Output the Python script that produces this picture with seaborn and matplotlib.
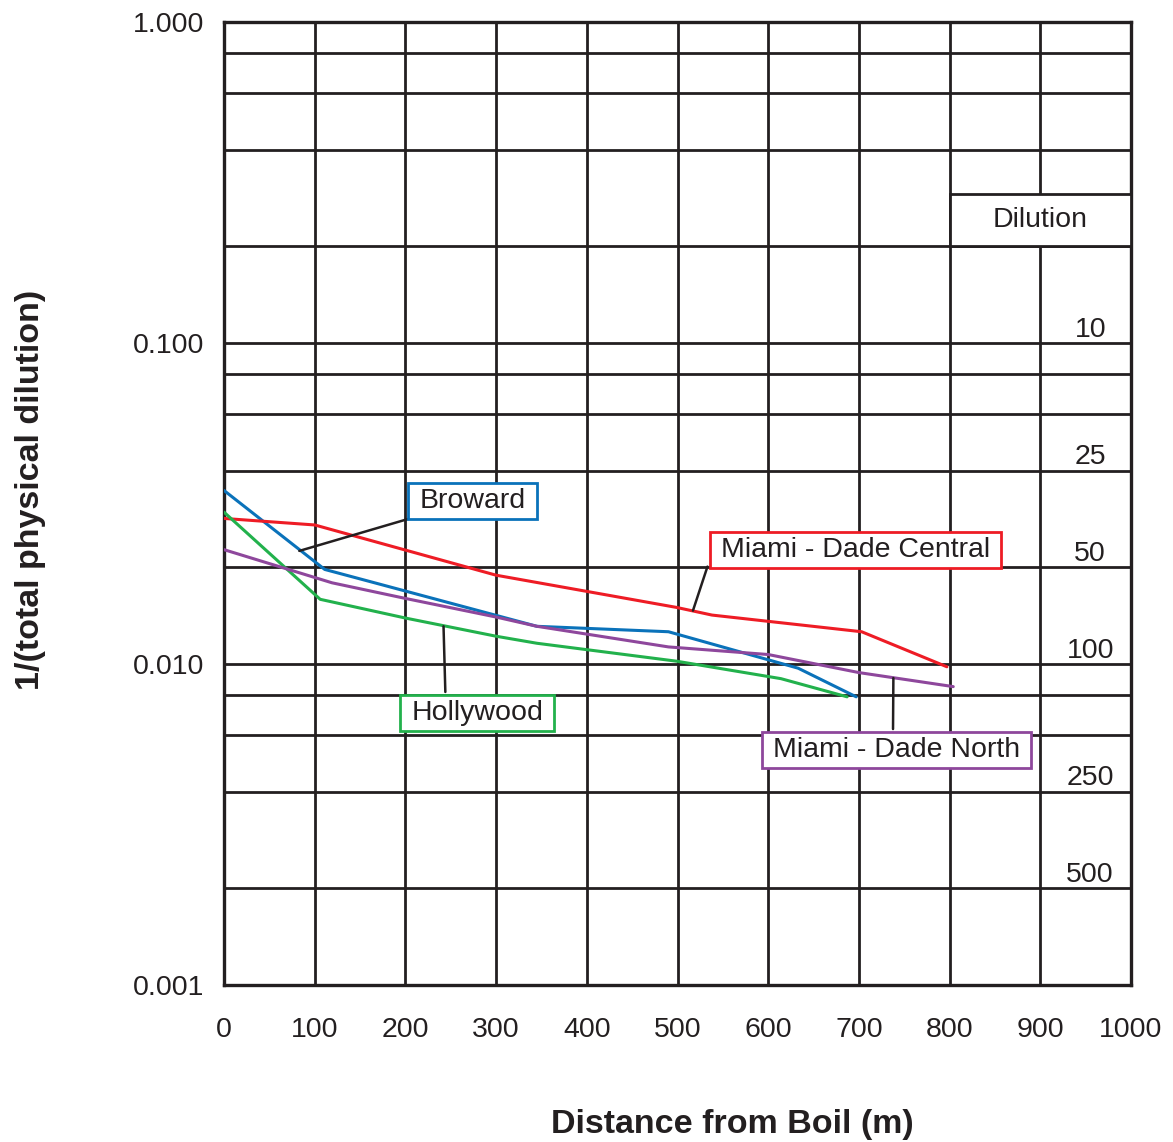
import numpy as np
import pandas as pd
import matplotlib
matplotlib.use("Agg")
import matplotlib.pyplot as plt
from matplotlib.patches import Rectangle
import seaborn as sns

# ---------------- data ----------------
broward_x = [0, 111, 345, 490, 633, 697]
broward_y = [0.0347, 0.0197, 0.0131, 0.0126, 0.0097, 0.0079]

central_x = [0, 100, 300, 499, 538, 703, 797]
central_y = [0.0284, 0.0271, 0.0189, 0.0150, 0.0142, 0.0126, 0.0098]

hollywood_x = [0, 106, 200, 300, 345, 499, 614, 687]
hollywood_y = [0.0297, 0.0159, 0.0139, 0.0122, 0.0116, 0.0102, 0.0090, 0.0079]

north_x = [0, 119, 200, 300, 345, 490, 600, 700, 804]
north_y = [0.0227, 0.0179, 0.0160, 0.0140, 0.0131, 0.0113, 0.0107, 0.0094, 0.0085]

series_names = ["Broward", "Miami - Dade Central", "Hollywood", "Miami - Dade North"]
series_colors = ["#0a72ba", "#ee1c25", "#22b14c", "#8e479c"]

y_tick_values = [0.001, 0.01, 0.1, 1.0]
y_tick_labels = ["0.001", "0.010", "0.100", "1.000"]
x_tick_values = [0, 100, 200, 300, 400, 500, 600, 700, 800, 900, 1000]

dilution_values = [0.1, 0.04, 0.02, 0.01, 0.004, 0.002]
dilution_labels = ["10", "25", "50", "100", "250", "500"]

# label positions (x, y) and leader lines ((x0, y0), (x1, y1))
label_pos = [(274, 0.0322), (696, 0.0227), (279, 0.00705), (741, 0.00540)]
leader_lines = [((205, 0.0284), (83, 0.0225)),
                ((533, 0.0201), (517, 0.01466)),
                ((242, 0.0131), (244, 0.00818)),
                ((738, 0.00904), (737.6, 0.00627))]

frames = []
for name, xs, ys in zip(series_names,
                        [broward_x, central_x, hollywood_x, north_x],
                        [broward_y, central_y, hollywood_y, north_y]):
    frames.append(pd.DataFrame({"distance": xs, "value": ys, "series": name,
                                "order": range(len(xs))}))
df = pd.concat(frames, ignore_index=True)

# ---------------- style ----------------
sns.set_theme(style="white")
plt.rcParams["font.family"] = ["Liberation Sans", "DejaVu Sans"]
ink = "#231f20"
fs = 20.5

fig = plt.figure(figsize=(11.73, 11.42), dpi=100)
ax = fig.add_axes([0.191, 0.1375, 0.7732, 0.8433])

sns.lineplot(data=df, x="distance", y="value", hue="series", units="series",
             estimator=None, sort=False, palette=dict(zip(series_names, series_colors)),
             linewidth=2.2, legend=False, ax=ax, zorder=4)

ax.set_yscale("log")
ax.set_xlim(0, 1000)
ax.set_ylim(0.001, 1.0)

ax.set_yticks(y_tick_values)
ax.set_yticklabels(y_tick_labels)
minor = [m * d for d in [0.001, 0.01, 0.1] for m in [2, 4, 6, 8]]
ax.set_yticks(minor, minor=True)
ax.yaxis.set_minor_formatter(matplotlib.ticker.NullFormatter())
ax.set_xticks(x_tick_values)
ax.set_xticklabels([str(v) for v in x_tick_values])

ax.tick_params(axis="both", which="both", length=0, labelsize=fs, colors=ink)
ax.tick_params(axis="y", pad=14)
ax.tick_params(axis="x", pad=23)

ax.grid(True, which="both", axis="y", color=ink, linewidth=2.0)
ax.grid(True, which="major", axis="x", color=ink, linewidth=2.0)
ax.set_axisbelow(True)
for sp in ax.spines.values():
    sp.set_color(ink)
    sp.set_linewidth(2.4)
    sp.set_visible(True)

ax.set_xlabel("Distance from Boil (m)", fontsize=24.5, fontweight="bold",
              color=ink, va="center", ha="center")
ax.xaxis.set_label_coords(0.560, -0.1445)
ax.set_ylabel("1/(total physical dilution)", fontsize=24.5, fontweight="bold",
              color=ink, va="center", ha="center")
ax.yaxis.set_label_coords(-0.213, 0.514)

# Dilution header box
ax.add_patch(Rectangle((800, 0.2), 200, 0.291 - 0.2, facecolor="white",
                       edgecolor=ink, linewidth=2.0, zorder=3))
ax.text(900, 10 ** ((np.log10(0.2) + np.log10(0.291)) / 2), "Dilution",
        ha="center", va="center", fontsize=fs, color=ink, zorder=5)

for v, lab in zip(dilution_values, dilution_labels):
    ax.annotate(lab, (955, v), xytext=(0, 4.5), textcoords="offset points",
                ha="center", va="baseline", fontsize=fs, color=ink, zorder=5)

# leader lines
for (p0, p1) in leader_lines:
    ax.plot([p0[0], p1[0]], [p0[1], p1[1]], color=ink, linewidth=1.8, zorder=5)

texts = []
for (lx, ly), name in zip(label_pos, series_names):
    t = ax.text(lx, ly, name, ha="center", va="center", fontsize=fs, color=ink, zorder=7)
    texts.append(t)

fig.canvas.draw()
renderer = fig.canvas.get_renderer()
inv = fig.transFigure.inverted()
for t, col in zip(texts, series_colors):
    bb = t.get_window_extent(renderer)
    x0, y0 = bb.x0 - 11, bb.y0 - 5
    x1, y1 = bb.x1 + 11, bb.y1 + 5
    (fx0, fy0) = inv.transform((x0, y0))
    (fx1, fy1) = inv.transform((x1, y1))
    fig.patches.append(Rectangle((fx0, fy0), fx1 - fx0, fy1 - fy0,
                                 transform=fig.transFigure, facecolor="white",
                                 edgecolor=col, linewidth=2.0, zorder=6))
# re-draw label texts on top of the boxes
for t in texts:
    t.remove()
for (lx, ly), name in zip(label_pos, series_names):
    (dx, dy) = ax.transData.transform((lx, ly))
    fx, fy = inv.transform((dx, dy))
    fig.text(fx, fy, name, ha="center", va="center", fontsize=fs, color=ink, zorder=8)

fig.savefig("out.png", dpi=100)
